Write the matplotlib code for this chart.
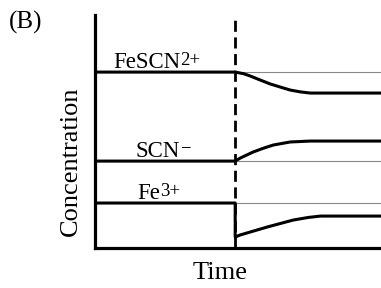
import matplotlib
matplotlib.use("Agg")
import matplotlib.pyplot as plt
from matplotlib.offsetbox import TextArea, HPacker, AnnotationBbox

plt.rcParams['font.family'] = ['Liberation Serif', 'DejaVu Serif']

# Data (arbitrary units)
t_change = 5.0
t_end = 10.2

fescn_t = [0.0, 5.0, 5.3, 5.54, 5.89, 6.25, 6.71, 6.96, 7.32, 7.68, 10.2]
fescn_c = [7.55, 7.55, 7.48, 7.38, 7.21, 7.04, 6.87, 6.78, 6.70, 6.65, 6.65]

scn_t = [0.0, 5.0, 5.18, 5.64, 6.0, 6.36, 6.96, 7.68, 10.2]
scn_c = [3.73, 3.73, 3.86, 4.12, 4.28, 4.42, 4.55, 4.59, 4.59]

fe_t = [0.0, 5.0, 5.0, 5.18, 6.14, 7.07, 7.6, 8.04, 10.2]
fe_c = [1.93, 1.93, 0.47, 0.56, 0.90, 1.20, 1.31, 1.37, 1.37]

initial_levels = [7.55, 3.73, 1.93]
label_main = ['FeSCN', 'SCN', 'Fe']
label_sup = ['2+', '\u2212', '3+']
label_t = [0.64, 1.43, 1.5]

fig = plt.figure(figsize=(3.81, 2.88), dpi=100)
ax = fig.add_axes([95/381, 40/288, 286/381, 233/288])
ax.set_xlim(0, t_end)
ax.set_ylim(0, 10)

for lvl in initial_levels:
    ax.plot([t_change, t_end], [lvl, lvl], color='#888888', lw=0.8, zorder=1)

for tt, cc in [(fescn_t, fescn_c), (scn_t, scn_c), (fe_t, fe_c)]:
    ax.plot(tt, cc, color='black', lw=2.2, solid_capstyle='butt',
            solid_joinstyle='round', zorder=3)

ax.plot([t_change, t_change], [0, 10], color='black', lw=2.0,
        linestyle=(0, (4, 2.0)), zorder=2)

for main, sup, lt, lvl in zip(label_main, label_sup, label_t, initial_levels):
    ta = TextArea(main, textprops=dict(fontsize=16.5, family=['Liberation Serif']))
    ts = TextArea(sup, textprops=dict(fontsize=13.5, family=['Liberation Serif']))
    pk = HPacker(children=[ta, ts], pad=0, sep=0.3, align='top')
    ab = AnnotationBbox(pk, (lt, lvl - 0.05), xycoords='data', frameon=False,
                        box_alignment=(0, 0), pad=0)
    ab.set_zorder(4)
    ax.add_artist(ab)

for s in ['top', 'right']:
    ax.spines[s].set_visible(False)
for s in ['left', 'bottom']:
    ax.spines[s].set_linewidth(2.3)
ax.set_xticks([])
ax.set_yticks([])
ax.patch.set_alpha(0)

fig.text(71/381, 1 - 161/288, 'Concentration', rotation=90, fontsize=19,
         ha='center', va='center')
fig.text(220/381, 1 - 273/288, 'Time', fontsize=19, ha='center', va='center')
fig.text(9/381, 1 - 11/288, '(B)', fontsize=18, ha='left', va='top')

fig.savefig('out.png', dpi=100)
